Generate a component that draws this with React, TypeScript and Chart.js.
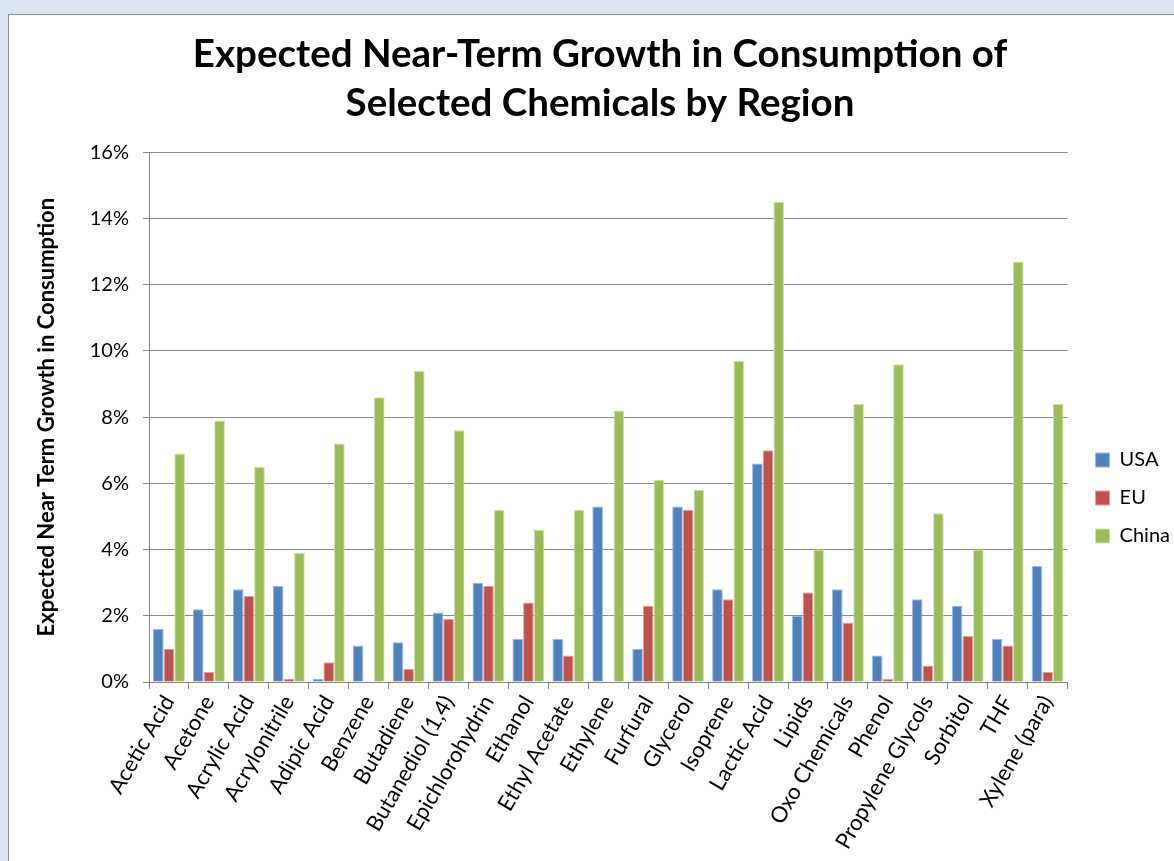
import React, { useEffect, useRef } from "react";
import { Chart, registerables } from "chart.js";

Chart.register(...registerables);

const categories = [
  "Acetic Acid", "Acetone", "Acrylic Acid", "Acrylonitrile", "Adipic Acid", "Benzene",
  "Butadiene", "Butanediol (1,4)", "Epichlorohydrin", "Ethanol", "Ethyl Acetate", "Ethylene",
  "Furfural", "Glycerol", "Isoprene", "Lactic Acid", "Lipids", "Oxo Chemicals", "Phenol",
  "Propylene Glycols", "Sorbitol", "THF", "Xylene (para)",
];

const usa = [1.6, 2.2, 2.8, 2.9, 0.1, 1.1, 1.2, 2.1, 3.0, 1.3, 1.3, 5.3, 1.0, 5.3, 2.8, 6.6, 2.0, 2.8, 0.8, 2.5, 2.3, 1.3, 3.5];
const eu = [1.0, 0.3, 2.6, 0.1, 0.6, 0, 0.4, 1.9, 2.9, 2.4, 0.8, -0.03, 2.3, 5.2, 2.5, 7.0, 2.7, 1.8, 0.1, 0.5, 1.4, 1.1, 0.3];
const china = [6.9, 7.9, 6.5, 3.9, 7.2, 8.6, 9.4, 7.6, 5.2, 4.6, 5.2, 8.2, 6.1, 5.8, 9.7, 14.5, 4.0, 8.4, 9.6, 5.1, 4.0, 12.7, 8.4];

const seriesNames = ["USA", "EU", "China"];
const titleLines = ["Expected Near-Term Growth in Consumption of", "Selected Chemicals by Region"];
const yAxisTitle = "Expected Near Term Growth in Consumption";
const yMin = 0;
const yMax = 16;
const yStep = 2;

const FONT = "Lato, 'DejaVu Sans', sans-serif";
const GRID = "#878787";

export default function App() {
  const ref = useRef<HTMLCanvasElement | null>(null);

  useEffect(() => {
    if (!ref.current) return;
    const chart = new Chart(ref.current, {
      type: "bar",
      data: {
        labels: categories,
        datasets: [
          { label: seriesNames[0], data: usa, backgroundColor: "#4f81bd", borderColor: "#9db8dc", borderWidth: 1, yAxisID: "y" },
          { label: seriesNames[1], data: eu, backgroundColor: "#c0504d", borderColor: "#dea3a1", borderWidth: 1, yAxisID: "y" },
          { label: seriesNames[2], data: china, backgroundColor: "#9bbb59", borderColor: "#cfe0ad", borderWidth: 1, yAxisID: "y" },
        ],
      },
      options: {
        responsive: false,
        animation: false,
        devicePixelRatio: 1,
        layout: { padding: { left: 11, right: 1, top: 0, bottom: 0 } },
        datasets: { bar: { categoryPercentage: 0.8, barPercentage: 1.0 } },
        plugins: {
          title: {
            display: true,
            text: titleLines,
            color: "#000",
            font: { family: FONT, size: 38.5, weight: "bold", lineHeight: 1.25 },
            padding: { top: 16, bottom: 25 },
          },
          legend: {
            position: "right",
            labels: {
              color: "#000",
              font: { family: FONT, size: 20 },
              boxWidth: 14,
              boxHeight: 14,
              padding: 18,
            },
          },
          tooltip: { enabled: false },
        },
        scales: {
          x: {
            offset: true,
            afterFit: (s: any) => {
              s.height = 299;
            },
            grid: {
              display: true,
              offset: true,
              drawOnChartArea: false,
              drawTicks: true,
              tickLength: 7,
              color: GRID,
            },
            border: { display: true, color: GRID },
            ticks: {
              color: "#000",
              font: { family: FONT, size: 22 },
              maxRotation: 60,
              minRotation: 60,
              autoSkip: false,
              padding: 2,
            },
          },
          y: {
            min: yMin,
            max: yMax,
            afterFit: (s: any) => {
              s.width = 129;
            },
            grid: { color: GRID, tickLength: 6, drawTicks: true },
            border: { display: true, color: GRID },
            ticks: {
              stepSize: yStep,
              color: "#000",
              font: { family: FONT, size: 20 },
              padding: 14,
              callback: (v: any) => `${v}%`,
            },
            title: {
              display: true,
              text: yAxisTitle,
              color: "#000",
              font: { family: FONT, size: 22, weight: "bold" },
              padding: { top: 14, bottom: 10 },
            },
          },
          ySpacer: {
            position: "right",
            display: true,
            afterFit: (s: any) => {
              s.width = 10;
            },
            grid: { display: false, drawTicks: false },
            border: { display: false },
            ticks: { display: false },
          },
        },
      },
    });
    return () => chart.destroy();
  }, []);

  return (
    <div style={{ position: "absolute", left: 0, top: 0, width: 1174, height: 861, overflow: "hidden", background: "#dbe5f1" }}>
      <div
        style={{
          position: "absolute",
          left: 8,
          top: 14,
          width: 1220,
          height: 1000,
          background: "#ffffff",
          border: "1px solid #8e8e8e",
          boxSizing: "border-box",
        }}
      >
        <canvas ref={ref} width={1172} height={966} style={{ position: "absolute", left: 0, top: 0, width: 1172, height: 966 }} />
      </div>
    </div>
  );
}
